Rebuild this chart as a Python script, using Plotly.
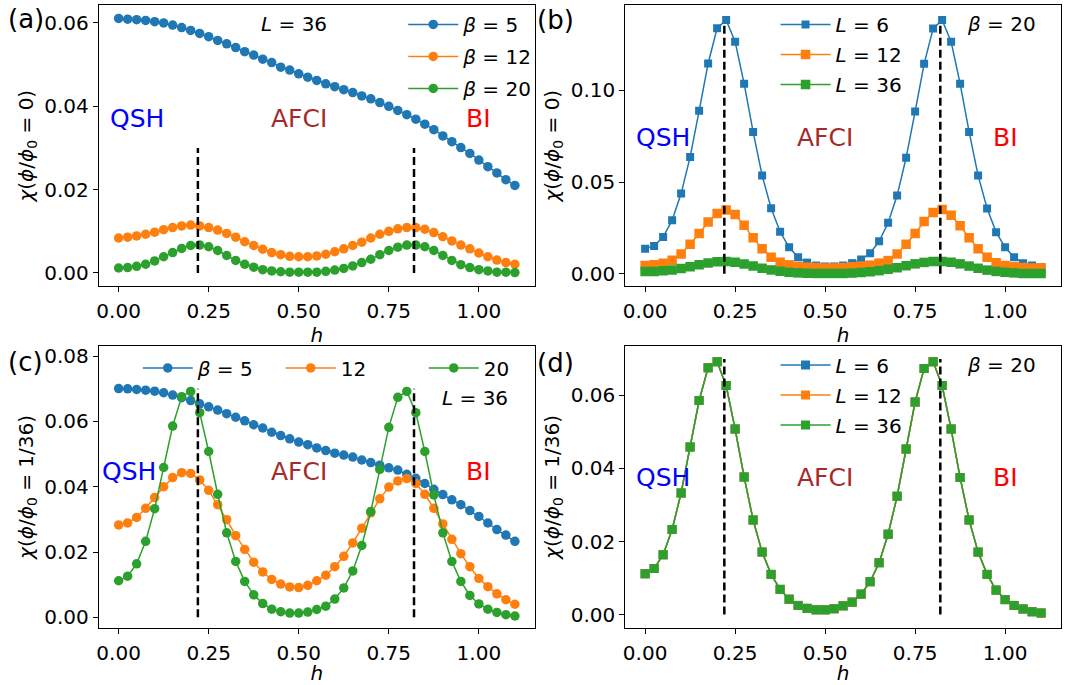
import plotly.graph_objects as go

# field values h (shared by every curve)
h = [0.0, 0.025, 0.05, 0.075, 0.1, 0.125, 0.15, 0.175, 0.2, 0.225,
     0.25, 0.275, 0.3, 0.325, 0.35, 0.375, 0.4, 0.425, 0.45, 0.475,
     0.5, 0.525, 0.55, 0.575, 0.6, 0.625, 0.65, 0.675, 0.7, 0.725,
     0.75, 0.775, 0.8, 0.825, 0.85, 0.875, 0.9, 0.925, 0.95, 0.975,
     1.0, 1.025, 1.05, 1.075, 1.1]

# (a) chi(phi/phi0 = 0), L = 36
chi0_L36_b5 = [0.0611, 0.0609, 0.0608, 0.0606, 0.0603, 0.0600, 0.0595, 0.0589, 0.0582, 0.0575,
               0.0567, 0.0558, 0.0550, 0.0541, 0.0531, 0.0523, 0.0513, 0.0505, 0.0494, 0.0487,
               0.0478, 0.0470, 0.0462, 0.0454, 0.0447, 0.0440, 0.0433, 0.0425, 0.0418, 0.0409,
               0.0400, 0.0390, 0.0380, 0.0369, 0.0357, 0.0344, 0.0329, 0.0315, 0.0301, 0.0287,
               0.0271, 0.0255, 0.0240, 0.0224, 0.0210]
chi0_L36_b12 = [0.0084, 0.0086, 0.0089, 0.0093, 0.0098, 0.0104, 0.0109, 0.0113, 0.0115, 0.0113,
                0.0109, 0.0103, 0.0095, 0.0086, 0.0075, 0.0066, 0.0057, 0.0049, 0.0044, 0.0040,
                0.0039, 0.0039, 0.0041, 0.0045, 0.0051, 0.0058, 0.0066, 0.0074, 0.0084, 0.0093,
                0.0100, 0.0106, 0.0109, 0.0109, 0.0105, 0.0097, 0.0087, 0.0077, 0.0067, 0.0058,
                0.0048, 0.0039, 0.0031, 0.0025, 0.0021]
chi0_L36_b20 = [0.0012, 0.0013, 0.0016, 0.0021, 0.0029, 0.0039, 0.0049, 0.0059, 0.0066, 0.0067,
                0.0063, 0.0054, 0.0042, 0.0030, 0.0021, 0.0014, 0.0008, 0.0005, 0.0003, 0.0002,
                0.0002, 0.0002, 0.0002, 0.0004, 0.0007, 0.0011, 0.0017, 0.0025, 0.0033, 0.0044,
                0.0054, 0.0062, 0.0067, 0.0067, 0.0063, 0.0054, 0.0042, 0.0030, 0.0020, 0.0013,
                0.0008, 0.0005, 0.0002, 0.0002, 0.0001]

# (b) chi(phi/phi0 = 0), beta = 20
chi0_b20_L6 = [0.0137, 0.0152, 0.0200, 0.0292, 0.0437, 0.0637, 0.0888, 0.1146, 0.1338, 0.1383,
               0.1265, 0.1036, 0.0773, 0.0536, 0.0357, 0.0229, 0.0144, 0.0090, 0.0061, 0.0045,
               0.0040, 0.0040, 0.0045, 0.0058, 0.0078, 0.0112, 0.0177, 0.0278, 0.0426, 0.0632,
               0.0884, 0.1144, 0.1336, 0.1383, 0.1265, 0.1036, 0.0773, 0.0536, 0.0356, 0.0227,
               0.0144, 0.0090, 0.0058, 0.0045, 0.0036]
chi0_b20_L12 = [0.0045, 0.0049, 0.0058, 0.0074, 0.0108, 0.0161, 0.0220, 0.0282, 0.0329, 0.0347,
                0.0323, 0.0264, 0.0197, 0.0137, 0.0090, 0.0063, 0.0049, 0.0040, 0.0036, 0.0034,
                0.0032, 0.0032, 0.0034, 0.0038, 0.0042, 0.0047, 0.0058, 0.0072, 0.0108, 0.0161,
                0.0220, 0.0285, 0.0334, 0.0350, 0.0319, 0.0262, 0.0197, 0.0137, 0.0090, 0.0060,
                0.0045, 0.0038, 0.0034, 0.0032, 0.0031]
chi0_b20_L36 = chi0_L36_b20

# (c) chi(phi/phi0 = 1/36), L = 36
chi36_L36_b5 = [0.0701, 0.0700, 0.0698, 0.0696, 0.0693, 0.0688, 0.0681, 0.0673, 0.0664, 0.0654,
                0.0645, 0.0635, 0.0624, 0.0613, 0.0602, 0.0590, 0.0580, 0.0567, 0.0557, 0.0547,
                0.0537, 0.0529, 0.0519, 0.0511, 0.0503, 0.0497, 0.0491, 0.0482, 0.0474, 0.0466,
                0.0458, 0.0451, 0.0438, 0.0426, 0.0410, 0.0392, 0.0376, 0.0360, 0.0345, 0.0327,
                0.0309, 0.0289, 0.0269, 0.0252, 0.0233]
chi36_L36_b12 = [0.0283, 0.0289, 0.0306, 0.0334, 0.0367, 0.0400, 0.0428, 0.0443, 0.0441, 0.0421,
                 0.0389, 0.0345, 0.0299, 0.0250, 0.0208, 0.0169, 0.0139, 0.0116, 0.0102, 0.0093,
                 0.0091, 0.0098, 0.0112, 0.0129, 0.0155, 0.0187, 0.0228, 0.0273, 0.0320, 0.0363,
                 0.0399, 0.0418, 0.0425, 0.0410, 0.0377, 0.0334, 0.0286, 0.0239, 0.0195, 0.0155,
                 0.0119, 0.0094, 0.0072, 0.0054, 0.0040]
chi36_L36_b20 = [0.0112, 0.0126, 0.0164, 0.0233, 0.0333, 0.0459, 0.0586, 0.0676, 0.0692, 0.0627,
                 0.0508, 0.0377, 0.0259, 0.0171, 0.0110, 0.0069, 0.0042, 0.0025, 0.0017, 0.0013,
                 0.0013, 0.0016, 0.0024, 0.0034, 0.0056, 0.0090, 0.0142, 0.0220, 0.0324, 0.0453,
                 0.0582, 0.0674, 0.0692, 0.0627, 0.0508, 0.0375, 0.0259, 0.0171, 0.0110, 0.0067,
                 0.0041, 0.0025, 0.0015, 0.0008, 0.0004]

# (d) chi(phi/phi0 = 1/36), beta = 20 -- the three sizes coincide
chi36_b20_L6 = chi36_L36_b20
chi36_b20_L12 = chi36_L36_b20
chi36_b20_L36 = chi36_L36_b20

# phase boundaries and the height of the dashed markers in each panel
h_c = [0.22, 0.82]
boundary_top = {"a": 0.03, "b": 0.136, "c": 0.07, "d": 0.07}

COLORS = ["#1f77b4", "#ff7f0e", "#2ca02c"]
FONT = "DejaVu Sans"
W, H = 1065, 685

fig = go.Figure()


def add_series(y, name, color, xa, ya, symbol, size, legend):
    fig.add_trace(go.Scatter(
        x=h, y=y, mode="lines+markers", name=name,
        line=dict(color=color, width=1.5),
        marker=dict(symbol=symbol, size=size, color=color),
        xaxis=xa, yaxis=ya, legend=legend,
        legendgroup=legend + name,
    ))


# panel (a)
add_series(chi0_L36_b5, "<i>β</i> = 5", COLORS[0], "x", "y", "circle", 9.5, "legend")
add_series(chi0_L36_b12, "<i>β</i> = 12", COLORS[1], "x", "y", "circle", 9.5, "legend")
add_series(chi0_L36_b20, "<i>β</i> = 20", COLORS[2], "x", "y", "circle", 9.5, "legend")
# panel (b)
add_series(chi0_b20_L6, "<i>L</i> = 6", COLORS[0], "x2", "y2", "square", 8, "legend2")
add_series(chi0_b20_L12, "<i>L</i> = 12", COLORS[1], "x2", "y2", "square", 9.5, "legend2")
add_series(chi0_b20_L36, "<i>L</i> = 36", COLORS[2], "x2", "y2", "square", 9.5, "legend2")
# panel (c)
add_series(chi36_L36_b5, "<i>β</i> = 5", COLORS[0], "x3", "y3", "circle", 9.5, "legend3")
add_series(chi36_L36_b12, "12", COLORS[1], "x3", "y3", "circle", 9.5, "legend3")
add_series(chi36_L36_b20, "20", COLORS[2], "x3", "y3", "circle", 9.5, "legend3")
# panel (d)
add_series(chi36_b20_L6, "<i>L</i> = 6", COLORS[0], "x4", "y4", "square", 9, "legend4")
add_series(chi36_b20_L12, "<i>L</i> = 12", COLORS[1], "x4", "y4", "square", 9, "legend4")
add_series(chi36_b20_L36, "<i>L</i> = 36", COLORS[2], "x4", "y4", "square", 9, "legend4")

# dashed phase boundaries
for key, xr, yr in [("a", "x", "y"), ("b", "x2", "y2"), ("c", "x3", "y3"), ("d", "x4", "y4")]:
    for hc in h_c:
        fig.add_shape(type="line", xref=xr, yref=yr, x0=hc, x1=hc, y0=0, y1=boundary_top[key],
                      line=dict(color="black", width=2.5, dash="8px,4px"))

col1 = [97.0 / W, 533.7 / W]
col2 = [624.5 / W, 1060.9 / W]
row1 = [1 - 287.0 / H, 1 - 4.5 / H]
row2 = [1 - 631.7 / H, 1 - 347.3 / H]

TICKFONT = dict(family=FONT, size=20, color="black")


def xaxis(domain, anchor):
    return dict(domain=domain, anchor=anchor, range=[-0.055, 1.155],
                tickvals=[0, 0.25, 0.5, 0.75, 1.0], tickformat=".2f",
                ticks="outside", ticklen=5, tickwidth=1, tickcolor="black",
                ticklabelstandoff=2,
                showline=True, mirror=True, linecolor="black", linewidth=1,
                showgrid=False, zeroline=False, tickfont=TICKFONT,
                title=dict(text="<i>h</i>", font=TICKFONT, standoff=6))


def yaxis(domain, anchor, rng, tickvals, fmt, title):
    return dict(domain=domain, anchor=anchor, range=rng, tickvals=tickvals, tickformat=fmt,
                ticks="outside", ticklen=5, tickwidth=1, tickcolor="black",
                showline=True, mirror=True, linecolor="black", linewidth=1,
                showgrid=False, zeroline=False, tickfont=TICKFONT,
                title=dict(text=title, font=TICKFONT, standoff=5))


t0 = "<i>χ</i>(<i>ϕ</i>/<i>ϕ</i><sub>0</sub> = 0)"
t36 = "<i>χ</i>(<i>ϕ</i>/<i>ϕ</i><sub>0</sub> = 1/36)"

legfont = dict(family=FONT, size=20, color="black")
leg_common = dict(font=legfont, bgcolor="rgba(0,0,0,0)", borderwidth=0,
                  itemwidth=50, xanchor="left", yanchor="top")

fig.update_layout(
    width=W, height=H, margin=dict(l=0, r=0, t=0, b=0),
    paper_bgcolor="white", plot_bgcolor="white",
    font=dict(family=FONT, size=20, color="black"),
    xaxis=xaxis(col1, "y"), yaxis=yaxis(row1, "x", [-0.0031, 0.0642], [0, 0.02, 0.04, 0.06], ".2f", t0),
    xaxis2=xaxis(col2, "y2"), yaxis2=yaxis(row1, "x2", [-0.0066, 0.1462], [0, 0.05, 0.10], ".2f", t0),
    xaxis3=xaxis(col1, "y3"), yaxis3=yaxis(row2, "x3", [-0.0033, 0.0832], [0, 0.02, 0.04, 0.06, 0.08], ".2f", t36),
    xaxis4=xaxis(col2, "y4"), yaxis4=yaxis(row2, "x4", [-0.0037, 0.0736], [0, 0.02, 0.04, 0.06], ".2f", t36),
    legend=dict(x=402 / W, y=1 - 4 / H, tracegroupgap=3, **leg_common),
    legend2=dict(x=775 / W, y=1 - 4 / H, tracegroupgap=1, **leg_common),
    legend3=dict(x=136 / W, y=1 - 350 / H, orientation="h", entrywidth=78, **leg_common),
    legend4=dict(x=775 / W, y=1 - 347 / H, tracegroupgap=1, **leg_common),
)

# phase labels and panel parameters
phase = [("QSH", "#0000ff"), ("AFCI", "#a52a2a"), ("BI", "#ff0000")]
phase_pos = {
    "a": ("x", "y", [0.05, 0.50, 1.0], 0.037),
    "b": ("x2", "y2", [0.05, 0.50, 1.0], 0.0741),
    "c": ("x3", "y3", [0.03, 0.50, 1.0], 0.0446),
    "d": ("x4", "y4", [0.05, 0.50, 1.0], 0.0375),
}
for key, (xr, yr, xs, yv) in phase_pos.items():
    for (txt, col), xv in zip(phase, xs):
        fig.add_annotation(x=xv, y=yv, xref=xr, yref=yr, text=txt, showarrow=False,
                           font=dict(family=FONT, size=25, color=col),
                           xanchor="center", yanchor="middle")

params = [("x", "y", 0.486, 0.0598, "<i>L</i> = 36"),
          ("x2", "y2", 0.99, 0.136, "<i>β</i> = 20"),
          ("x3", "y3", 0.989, 0.0673, "<i>L</i> = 36"),
          ("x4", "y4", 0.99, 0.0683, "<i>β</i> = 20")]
for xr, yr, xv, yv, txt in params:
    fig.add_annotation(x=xv, y=yv, xref=xr, yref=yr, text=txt, showarrow=False,
                       font=legfont, xanchor="center", yanchor="middle")

panels = [("(a)", 4, 18), ("(b)", 534, 19), ("(c)", 4, 364), ("(d)", 534, 365)]
for txt, px, py in panels:
    fig.add_annotation(x=px / W, y=1 - py / H, xref="paper", yref="paper", text=txt,
                       showarrow=False, font=dict(family=FONT, size=26, color="black"),
                       xanchor="left", yanchor="middle")

fig.write_html("out.html")
